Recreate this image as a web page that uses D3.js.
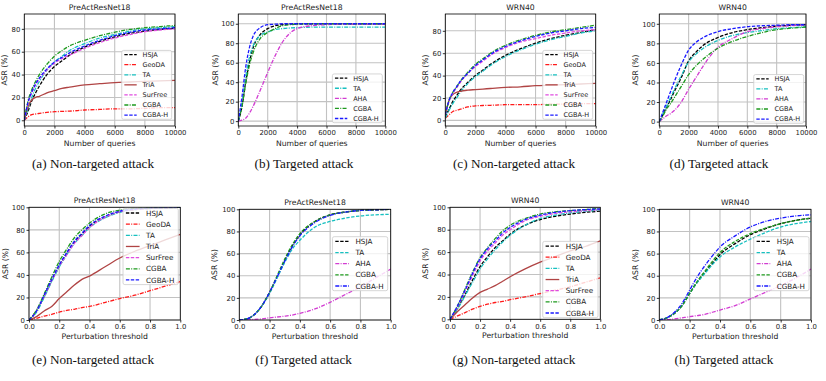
<!DOCTYPE html>
<html lang="en">
  <head>
    <meta charset="UTF-8" />
    <title>ASR curves</title>
    <script src="https://cdn.jsdelivr.net/npm/d3@7"></script>
    <style>
      body { margin: 0; background: #fff; }
      svg text { font-family: "DejaVu Sans", sans-serif; }
      .caption { font-family: "Liberation Serif", "Times New Roman", serif !important; }
    </style>
  </head>
  <body>
    <svg id="chart" width="826" height="381"></svg>
    <script>
      // x values
      const queries = [0, 250, 500, 750, 1000, 1500, 2000, 2500, 3000, 4000, 5000, 6000, 7000, 8000, 9000, 10000];
      const thresholds = [0, 0.05, 0.1, 0.15, 0.2, 0.25, 0.3, 0.35, 0.4, 0.5, 0.6, 0.7, 0.8, 0.9, 1.0];

      const queryTicks = [0, 2000, 4000, 6000, 8000, 10000];
      const thresholdTicks = [0, 0.2, 0.4, 0.6, 0.8, 1.0];
      const asrTicks80 = [0, 20, 40, 60, 80];
      const asrTicks100 = [0, 20, 40, 60, 80, 100];

      const nonTargetedMethods = ["HSJA", "GeoDA", "TA", "TriA", "SurFree", "CGBA", "CGBA-H"];
      const targetedMethods = ["HSJA", "TA", "AHA", "CGBA", "CGBA-H"];

      // (a) PreActResNet18, non-targeted, vs queries
      const preactNtQueries = {
        HSJA: [0, 8, 17, 24, 30, 40, 47, 52, 57, 64, 69, 73, 76, 78, 79.5, 80.5],
        GeoDA: [0, 3, 5, 5.5, 6, 7, 7.5, 7.8, 8, 9, 9.5, 10, 10, 10.5, 11, 11],
        TA: [0, 10, 20, 28, 34, 44, 51, 56, 61, 67, 72, 75, 78, 80, 81, 82],
        TriA: [0, 12, 18, 20, 21, 24, 26, 28, 29, 31, 32, 33, 33.5, 34, 34.5, 35],
        SurFree: [0, 15, 24, 31, 36, 44, 50, 54, 57, 63, 68, 72, 75, 77.5, 79, 80],
        CGBA: [0, 17, 27, 34, 40, 49, 56, 61, 65, 70, 74, 77, 79.5, 81, 82, 83],
        "CGBA-H": [0, 16, 25, 32, 37, 45, 51, 55, 59, 65, 70, 74, 77, 79, 80, 81]
      };
      // (b) PreActResNet18, targeted, vs queries
      const preactTQueries = {
        HSJA: [0, 15, 40, 60, 75, 89, 95, 98, 99, 100, 100, 100, 100, 100, 100, 100],
        TA: [0, 18, 45, 65, 77, 88, 91.5, 94, 95, 96, 96.5, 96.5, 96.5, 96.5, 96.5, 96.5],
        AHA: [0, 1, 3, 8, 15, 32, 50, 67, 81, 95, 98, 99, 99.5, 99.5, 99.5, 99.5],
        CGBA: [0, 15, 38, 57, 70, 85, 91, 95, 98, 99.5, 100, 100, 100, 100, 100, 100],
        "CGBA-H": [0, 25, 55, 75, 87, 96, 99, 99.5, 100, 100, 100, 100, 100, 100, 100, 100]
      };
      // (c) WRN40, non-targeted, vs queries
      const wrnNtQueries = {
        HSJA: [3, 10, 17, 22, 27, 34, 40, 45, 50, 58, 64, 69, 73, 76, 78.5, 81],
        GeoDA: [2, 5, 8, 9, 10, 12, 13, 13.3, 13.5, 14, 14, 14, 14.5, 14.5, 15, 15],
        TA: [2, 9, 15, 20, 25, 33, 39, 44, 49, 57, 63, 68, 72, 75, 78, 80],
        TriA: [5, 18, 23, 25, 26, 27, 27.5, 28, 28.5, 29.5, 30, 31, 31.5, 32, 32.5, 33],
        SurFree: [5, 17, 24, 29, 34, 42, 48, 53, 58, 65, 70, 73, 76, 78, 80, 81],
        CGBA: [5, 18, 25, 30, 35, 43, 50, 55, 60, 67, 72, 76, 79, 81, 83, 85],
        "CGBA-H": [5, 18, 25, 30, 35, 42, 49, 54, 59, 66, 71, 75, 78, 80, 82, 83]
      };
      // (d) WRN40, targeted, vs queries
      const wrnTQueries = {
        HSJA: [0, 7, 15, 22, 30, 45, 62, 71, 78, 86, 91, 94, 96, 97.5, 98.5, 99],
        TA: [0, 8, 16, 24, 32, 47, 61, 69, 75, 83, 88, 91, 93, 95, 96, 97],
        AHA: [0, 3, 6, 8, 11, 20, 33, 45, 57, 76, 85, 92, 95, 97, 98, 99],
        CGBA: [0, 6, 13, 18, 24, 36, 48, 57, 64, 75, 82, 87, 91, 94, 95.5, 96.5],
        "CGBA-H": [0, 10, 20, 30, 40, 58, 73, 81, 86, 92, 95, 97, 98, 98.5, 99, 99]
      };
      // (e) PreActResNet18, non-targeted, vs threshold
      const preactNtThresh = {
        HSJA: [0, 8, 21, 35, 48, 59, 69, 76, 83, 91, 96, 98, 99, 99.5, 100],
        GeoDA: [0, 1.5, 3.5, 5, 7, 8.5, 9.5, 11, 12, 15.5, 19, 22, 26, 30, 34],
        TA: [0, 7, 20, 34, 47, 58, 68, 75, 82, 90.5, 95.5, 98, 99, 99.5, 100],
        TriA: [0, 3, 8, 12, 19, 25, 31, 36, 39, 47, 55, 61, 66, 71, 76],
        SurFree: [0, 8, 21, 35, 48, 58, 68, 75, 82, 91, 96, 98, 99, 99.5, 100],
        CGBA: [0, 9, 23, 38, 52, 63, 73, 80, 86, 94, 97.5, 99, 99.5, 100, 100],
        "CGBA-H": [0, 8, 22, 36, 49, 60, 70, 77, 84, 92, 96.5, 98.5, 99.3, 99.7, 100]
      };
      // (f) PreActResNet18, targeted, vs threshold
      const preactTThresh = {
        HSJA: [0, 1, 5, 13, 25, 39, 54, 67, 77, 89, 95, 97.5, 99, 99.5, 100],
        TA: [0, 1, 5, 13, 24, 38, 52, 64, 72, 84, 89, 92, 94, 95, 95.5],
        AHA: [0, 0.2, 0.5, 1, 2, 2.7, 3.5, 4.5, 6, 10, 16, 23, 30, 38, 46],
        CGBA: [0, 1, 5, 13, 25, 40, 55, 68, 78, 89, 95, 97.5, 99, 99.5, 100],
        "CGBA-H": [0, 1, 5, 13, 25, 39, 53, 66, 76, 88, 94.5, 97.5, 99, 99.5, 100]
      };
      // (g) WRN40, non-targeted, vs threshold
      const wrnNtThresh = {
        HSJA: [0, 10, 22, 35, 47, 56, 64, 70, 76, 84, 89, 92, 94, 95.5, 96.5],
        GeoDA: [0, 3, 6, 9, 11.5, 13.5, 15, 16, 17.5, 20, 23, 26, 29, 33, 37],
        TA: [0, 9, 21, 33, 45, 54, 62, 69, 75, 84, 90, 93, 95, 96.5, 97.5],
        TriA: [0, 7, 13, 19, 24, 27, 30, 34, 38, 45, 51, 56, 61, 65, 70],
        SurFree: [0, 11, 25, 39, 52, 61, 68, 75, 80, 88, 92, 94.5, 96, 97, 98],
        CGBA: [0, 12, 27, 42, 55, 64, 72, 79, 84, 90, 94, 96, 97, 98, 99],
        "CGBA-H": [0, 12, 26, 41, 54, 63, 70, 77, 82, 89, 93, 95.5, 97, 98, 98.5]
      };
      // (h) WRN40, targeted, vs threshold
      const wrnTThresh = {
        HSJA: [0, 2, 6, 13, 24, 34, 43, 51, 59, 69, 77, 82.5, 87, 90, 92],
        TA: [0, 2, 6, 13, 24, 34, 42, 50, 57, 66, 73, 79, 84, 87, 89],
        AHA: [0, 0.3, 1, 2, 3, 4, 5, 7, 9, 13, 19, 25, 31, 38, 46],
        CGBA: [0, 2, 6, 13, 24, 35, 44, 53, 61, 71, 78, 83, 87, 90, 92],
        "CGBA-H": [0, 2, 7, 15, 27, 39, 49, 58, 66, 76, 84, 89, 92, 94, 95]
      };

      const colors = {
        HSJA: "#000000",
        GeoDA: "#ff1a1a",
        TA: "#17c0c0",
        TriA: "#b04444",
        SurFree: "#e04ce0",
        CGBA: "#1e9a1e",
        "CGBA-H": "#1a1aff",
        AHA: "#d23cd2"
      };
      const DASH = "3.4,1.5";
      const DASHDOT = "4,1.3,1,1.3";
      const baseDash = {
        HSJA: DASH, GeoDA: DASHDOT, TA: DASHDOT, TriA: null,
        SurFree: DASH, CGBA: DASHDOT, "CGBA-H": DASH, AHA: DASHDOT
      };
      const altDash = Object.assign({}, baseDash, { TA: DASH, CGBA: DASH, "CGBA-H": DASHDOT });

      const panels = [
        { title: "PreActResNet18", caption: "(a) Non-targeted attack", capX: 93, x0: 24.3, x1: 175, y0: 14, y1: 126,
          xs: queries, xdom: [0, 10000], xticks: queryTicks, ydom: [-5, 93], yticks: asrTicks80,
          series: preactNtQueries, methods: nonTargetedMethods, dash: baseDash, legend: { right: 171.7, bottom: 119.3 }, ylabOff: 20 },
        { title: "PreActResNet18", caption: "(b) Targeted attack", capX: 304, x0: 238.3, x1: 385.3, y0: 14, y1: 126,
          xs: queries, xdom: [0, 10000], xticks: queryTicks, ydom: [-5, 110], yticks: asrTicks100,
          series: preactTQueries, methods: targetedMethods, dash: baseDash, legend: { right: 382.3, bottom: 122.7 }, ylabOff: 23.5 },
        { title: "WRN40", caption: "(c) Non-targeted attack", capX: 514, x0: 445.3, x1: 595.7, y0: 14, y1: 126,
          xs: queries, xdom: [0, 10000], xticks: queryTicks, ydom: [-5, 95], yticks: asrTicks80,
          series: wrnNtQueries, methods: nonTargetedMethods, dash: baseDash, legend: { right: 592.7, bottom: 119.3 }, ylabOff: 20 },
        { title: "WRN40", caption: "(d) Targeted attack", capX: 719, x0: 659.3, x1: 806, y0: 14, y1: 126,
          xs: queries, xdom: [0, 10000], xticks: queryTicks, ydom: [-4.5, 110], yticks: asrTicks100,
          series: wrnTQueries, methods: targetedMethods, dash: baseDash, legend: { right: 803.7, bottom: 123.3 }, ylabOff: 24 },
        { title: "PreActResNet18", caption: "(e) Non-targeted attack", capX: 93, x0: 29, x1: 180.3, y0: 207.3, y1: 320,
          xs: thresholds, xdom: [0, 1], xticks: thresholdTicks, ydom: [0, 100], yticks: asrTicks100,
          series: preactNtThresh, methods: nonTargetedMethods, dash: baseDash, legend: { right: 178.3, top: 208.3 }, ylabOff: 24 },
        { title: "PreActResNet18", caption: "(f) Targeted attack", capX: 303.5, x0: 239.3, x1: 390.7, y0: 209.3, y1: 320,
          xs: thresholds, xdom: [0, 1], xticks: thresholdTicks, ydom: [0, 100], yticks: asrTicks100,
          series: preactTThresh, methods: targetedMethods, dash: altDash, legend: { right: 387.7, top: 236.7 }, ylabOff: 25 },
        { title: "WRN40", caption: "(g) Non-targeted attack", capX: 514, x0: 450, x1: 600.3, y0: 207.3, y1: 319.3,
          xs: thresholds, xdom: [0, 1], xticks: thresholdTicks, ydom: [0, 100], yticks: asrTicks100,
          series: wrnNtThresh, methods: nonTargetedMethods, dash: baseDash, legend: { right: 598, bottom: 317.7 }, ylabOff: 25 },
        { title: "WRN40", caption: "(h) Targeted attack", capX: 724, x0: 659.3, x1: 811, y0: 209.3, y1: 320,
          xs: thresholds, xdom: [0, 1], xticks: thresholdTicks, ydom: [0, 100], yticks: asrTicks100,
          series: wrnTThresh, methods: targetedMethods, dash: altDash, legend: { right: 809, top: 236.7 }, ylabOff: 24.5 }
      ];

      const svg = d3.select("#chart");
      svg.append("rect").attr("width", 826).attr("height", 381).attr("fill", "#fff");

      const tickFont = 6.9;
      const labelFont = 7.7;

      panels.forEach((p, idx) => {
        const bottomRow = idx >= 4;
        const x = d3.scaleLinear().domain(p.xdom).range([p.x0, p.x1]);
        const y = d3.scaleLinear().domain(p.ydom).range([p.y1, p.y0]);
        const g = svg.append("g");
        const clipId = "clip" + idx;

        g.append("clipPath").attr("id", clipId)
          .append("rect").attr("x", p.x0).attr("y", p.y0)
          .attr("width", p.x1 - p.x0).attr("height", p.y1 - p.y0);

        // grid
        g.selectAll(".gx").data(p.xticks).join("line")
          .attr("x1", d => x(d)).attr("x2", d => x(d))
          .attr("y1", p.y0).attr("y2", p.y1)
          .attr("stroke", "#c2c2c2").attr("stroke-width", 1.1);
        g.selectAll(".gy").data(p.yticks).join("line")
          .attr("y1", d => y(d)).attr("y2", d => y(d))
          .attr("x1", p.x0).attr("x2", p.x1)
          .attr("stroke", "#c2c2c2").attr("stroke-width", 1.1);

        // curves
        const line = d3.line()
          .x((d, i) => x(p.xs[i]))
          .y(d => y(d))
          .curve(d3.curveMonotoneX);
        const lines = g.append("g").attr("clip-path", `url(#${clipId})`);
        p.methods.forEach(m => {
          lines.append("path")
            .attr("d", line(p.series[m]))
            .attr("fill", "none")
            .attr("stroke", colors[m])
            .attr("stroke-width", 1.3)
            .attr("stroke-dasharray", p.dash[m]);
        });

        // axes
        const xAxis = d3.axisBottom(x).tickValues(p.xticks).tickSize(2.5).tickPadding(2)
          .tickFormat(p.xdom[1] === 1 ? d3.format(".1f") : d3.format("d"));
        const yAxis = d3.axisLeft(y).tickValues(p.yticks).tickSize(2.5).tickPadding(1.5)
          .tickFormat(d3.format("d"));
        const gx = g.append("g").attr("transform", `translate(0,${p.y1})`).call(xAxis);
        const gy = g.append("g").attr("transform", `translate(${p.x0},0)`).call(yAxis);
        [gx, gy].forEach(a => {
          a.select(".domain").remove();
          a.selectAll("line").attr("stroke", "#000").attr("stroke-width", 0.8);
          a.selectAll("text").attr("font-size", tickFont).attr("fill", "#222")
            .attr("font-family", "DejaVu Sans");
        });

        g.append("rect")
          .attr("x", p.x0).attr("y", p.y0)
          .attr("width", p.x1 - p.x0).attr("height", p.y1 - p.y0)
          .attr("fill", "none").attr("stroke", "#000").attr("stroke-width", 0.8);

        // legend
        const lf = bottomRow ? 7.2 : 6.5;
        const rowH = lf * 1.55;
        const padY = lf * 0.65;
        const temp = g.append("text").attr("font-size", lf).text("CGBA-H");
        const textW = temp.node().getComputedTextLength();
        temp.remove();
        const boxW = lf * (0.4 + 1.9 + 0.9 + 0.55) + textW;
        const boxH = (p.methods.length - 1) * rowH + 2 * padY;
        const bx = p.legend.right - boxW;
        const by = p.legend.top !== undefined ? p.legend.top : p.legend.bottom - boxH;
        const lg = g.append("g");
        lg.append("rect")
          .attr("x", bx).attr("y", by).attr("width", boxW).attr("height", boxH)
          .attr("rx", 1.8).attr("fill", "#fff").attr("fill-opacity", 0.8)
          .attr("stroke", "#cccccc").attr("stroke-width", 0.8);
        p.methods.forEach((m, i) => {
          const cy = by + padY + i * rowH;
          lg.append("line")
            .attr("x1", bx + lf * 0.4).attr("x2", bx + lf * 2.3)
            .attr("y1", cy).attr("y2", cy)
            .attr("stroke", colors[m]).attr("stroke-width", 1.3)
            .attr("stroke-dasharray", p.dash[m]);
          lg.append("text")
            .attr("x", bx + lf * 3.2).attr("y", cy + lf * 0.36)
            .attr("font-size", lf).attr("fill", "#222")
            .text(m);
        });

        // labels
        const cx = (p.x0 + p.x1) / 2;
        g.append("text").attr("x", cx).attr("y", p.y0 - 4.3)
          .attr("text-anchor", "middle").attr("font-size", labelFont).attr("fill", "#222")
          .text(p.title);
        g.append("text").attr("x", cx).attr("y", p.y1 + (bottomRow ? 19 : 20))
          .attr("text-anchor", "middle").attr("font-size", labelFont).attr("fill", "#222")
          .text(p.xdom[1] === 1 ? "Perturbation threshold" : "Number of queries");
        const yc = (p.y0 + p.y1) / 2;
        g.append("text")
          .attr("transform", `translate(${p.x0 - p.ylabOff + 2.8},${yc}) rotate(-90)`)
          .attr("text-anchor", "middle").attr("font-size", labelFont).attr("fill", "#222")
          .text("ASR (%)");
        g.append("text").attr("class", "caption")
          .attr("x", p.capX).attr("y", bottomRow ? 363.5 : 167.7)
          .attr("text-anchor", "middle").attr("font-size", 13.2).attr("fill", "#111")
          .text(p.caption);
      });
    </script>
  </body>
</html>
